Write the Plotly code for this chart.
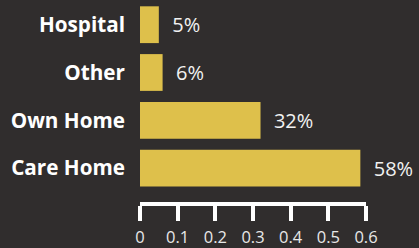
import plotly.graph_objects as go

categories = ["Care Home", "Own Home", "Other", "Hospital"]
values = [0.585, 0.32, 0.06, 0.05]
value_labels = ["58%", "32%", "6%", "5%"]
tick_vals = [0, 0.1, 0.2, 0.3, 0.4, 0.5, 0.6]
tick_text = ["0", "0.1", "0.2", "0.3", "0.4", "0.5", "0.6"]

BG = "#302d2d"
BAR = "#dec04b"
FONT = "Open Sans"

fig = go.Figure(go.Bar(
    x=values,
    y=categories,
    orientation="h",
    marker=dict(color=BAR, line=dict(width=0)),
    text=["  " + t for t in value_labels],
    textposition="outside",
    textfont=dict(family=FONT, size=20, color="#f2f2f2"),
    cliponaxis=False,
    hoverinfo="skip",
))

fig.update_layout(
    width=419, height=248,
    margin=dict(l=140, r=53, t=0, b=40),
    paper_bgcolor=BG, plot_bgcolor=BG,
    bargap=0.23,
    showlegend=False,
    xaxis=dict(
        range=[0, 0.6],
        tickvals=tick_vals, ticktext=tick_text,
        showgrid=False, zeroline=False,
        showline=True, linecolor="#ffffff", linewidth=4,
        ticks="outside", ticklen=15, tickwidth=4, tickcolor="#ffffff",
        tickfont=dict(family=FONT, size=16.5, color="#e8e8e8"),
        ticklabelstandoff=2,
    ),
    yaxis=dict(
        type="category",
        categoryorder="array", categoryarray=categories,
        range=[-0.71, 3.517],
        showgrid=False, zeroline=False, showline=False,
        ticks="", ticklabelstandoff=14,
        tickfont=dict(family=FONT, size=20.7, color="#ffffff", weight="bold"),
    ),
)

fig.write_html(
    "out.html",
    config={"displayModeBar": False},
    post_script="document.body.style.margin='0';document.body.style.background='%s';" % BG,
)
